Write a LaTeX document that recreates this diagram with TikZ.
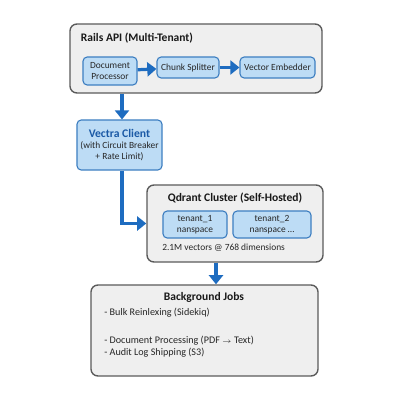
\documentclass[tikz,border=0pt]{standalone}
\usepackage{fontspec}
\setmainfont{Carlito}
\usetikzlibrary{arrows.meta}

\definecolor{boxgray}{HTML}{EFEFEF}
\definecolor{edgegray}{HTML}{5A5A5A}
\definecolor{compfill}{HTML}{BDDCF5}
\definecolor{compedge}{HTML}{3E7FC1}
\definecolor{flowblue}{HTML}{1E6CC0}
\definecolor{titleblue}{HTML}{1B5AA6}

\tikzset{
  layer/.style={draw=edgegray, fill=boxgray, line width=1pt, rounded corners=5pt},
  comp/.style={draw=compedge, fill=compfill, line width=.8pt, rounded corners=3pt,
    align=center, font=\fontsize{6.7}{7.6}\selectfont, text=black!85, inner sep=1pt},
  flow/.style={draw=flowblue, line width=2.3pt, -{Triangle[width=10pt,length=6.5pt]}},
  heading/.style={font=\fontsize{8.2}{9}\bfseries\selectfont, text=black!90},
  jobline/.style={anchor=west, font=\fontsize{7.2}{8}\selectfont, inner sep=0pt, text=black!85}
}

\begin{document}
\begin{tikzpicture}[x=0.025cm, y=-0.025cm]
				\useasboundingbox (0,0) rectangle (400,400);
				% rails api
				\node [layer, minimum width=6.3cm, minimum height=1.725cm] (rails) at (196,58.5) {};
				\node [heading, anchor=west] (railstitle) at (76,38) {Rails API (Multi-Tenant)};
				\node [comp, minimum width=1.35cm, minimum height=.7cm] (docproc) at (110,71) {Document\\Processor};
				\node [comp, minimum width=1.55cm, minimum height=.525cm] (chunk) at (188,67.5) {Chunk Splitter};
				\node [comp, minimum width=1.875cm, minimum height=.525cm] (embed) at (277.5,67.5) {Vector Embedder};
				% client
				\node [comp, minimum width=2.125cm, minimum height=1.25cm, font=\fontsize{6.7}{7.8}\selectfont] (vectra) at (119.5,145)
					{{\fontsize{8.3}{9.5}\bfseries\selectfont\color{titleblue}Vectra Client}\\(with Circuit Breaker\\+ Rate Limit)};
				% qdrant
				\node [layer, minimum width=4.4cm, minimum height=1.925cm] (qdrant) at (235,223.5) {};
				\node [heading] (qtitle) at (235,198) {Qdrant Cluster (Self-Hosted)};
				\node [comp, minimum width=1.6cm, minimum height=.675cm] (tenanta) at (195,224.5) {tenant\_1\\nanspace};
				\node [comp, minimum width=1.95cm, minimum height=.675cm] (tenantb) at (272,224.5) {tenant\_2\\nanspace \ldots};
				\node [jobline, font=\fontsize{6.7}{7}\selectfont] (vecs) at (162,248) {2.1M vectors @ 768 dimensions};
				% jobs
				\node [layer, minimum width=5.675cm, minimum height=2.275cm] (jobs) at (204.5,330.5) {};
				\node [heading] (jobstitle) at (204,297) {Background Jobs};
				\node [jobline] (joba) at (104,313) {- Bulk Reinlexing (Sidekiq)};
				\node [jobline] (jobb) at (104,341) {- Document Processing (PDF {\tiny$\rightarrow$} Text)};
				\node [jobline] (jobc) at (104,353) {- Audit Log Shipping (S3)};
				\coordinate (down1) at (122,0);
				\coordinate (down2) at (216,0);
				\draw [flow] (docproc) -- (chunk);
				\draw [flow] (chunk) -- (embed);
				\draw [flow] (rails.south -| down1) -- (vectra.north -| down1);
				\draw [flow] (vectra.south -| down1) |- (qdrant.west);
				\draw [flow] (qdrant.south -| down2) -- (jobs.north -| down2);
			\end{tikzpicture}
\end{document}
